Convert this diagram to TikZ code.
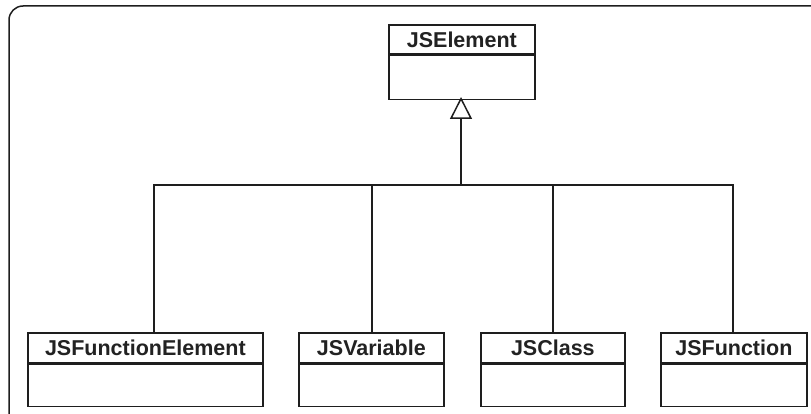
\documentclass[tikz,border=0pt]{standalone}
\usepackage{fontspec}
\setmainfont{Liberation Sans}
\usetikzlibrary{arrows.meta}
\definecolor{ink}{HTML}{1E1E1E}
\definecolor{txt}{HTML}{222222}
\tikzset{
  umlline/.style={draw=ink, line width=1.7pt},
  classhead/.style={umlline, fill=white, inner sep=0pt, anchor=north west,
    font=\fontsize{21.5}{24}\selectfont\bfseries, text=txt},
  classbody/.style={umlline, fill=white, inner sep=0pt, anchor=north west},
  conn/.style={draw=ink, line width=1.5pt},
  inherit/.style={conn, -{Triangle[open, length=22pt, width=22pt, line width=1.5pt]}},
}
\begin{document}
\begin{tikzpicture}[x=1pt, y=-1pt]
  \useasboundingbox (0,0) rectangle (811,414);
  % outer frame, cut at the right and bottom
  \draw[ink, line width=1.5pt, rounded corners=14pt] (9,420) -- (9,6) -- (820,6);

  % JSElement
  \node[classhead, minimum width=146pt, minimum height=29pt] (jeh) at (388,24) {JSElement};
  \node[classbody, minimum width=146pt, minimum height=44pt] (jeb) at (jeh.south west) {};

  % subclasses
  \node[classhead, minimum width=235pt, minimum height=30pt] (feh) at (27,332) {JSFunctionElement};
  \node[classbody, minimum width=235pt, minimum height=42pt] (feb) at (feh.south west) {};

  \node[classhead, minimum width=145pt, minimum height=30pt] (vah) at (298,332) {JSVariable};
  \node[classbody, minimum width=145pt, minimum height=42pt] (vab) at (vah.south west) {};

  \node[classhead, minimum width=144pt, minimum height=30pt] (clh) at (480,332) {JSClass};
  \node[classbody, minimum width=144pt, minimum height=42pt] (clb) at (clh.south west) {};

  \node[classhead, minimum width=146pt, minimum height=30pt] (fnh) at (660,332) {JSFunction};
  \node[classbody, minimum width=146pt, minimum height=42pt] (fnb) at (fnh.south west) {};

  % generalisation tree
  \coordinate (bus) at (461,185);
  \coordinate (top) at (461,97);
  \draw[conn] (154,332) -- (154,185) -- (733,185) -- (733,332);
  \draw[conn] (372,185) -- (372,332);
  \draw[conn] (553,185) -- (553,332);
  \draw[inherit] (bus) -- (top);
\end{tikzpicture}
\end{document}
